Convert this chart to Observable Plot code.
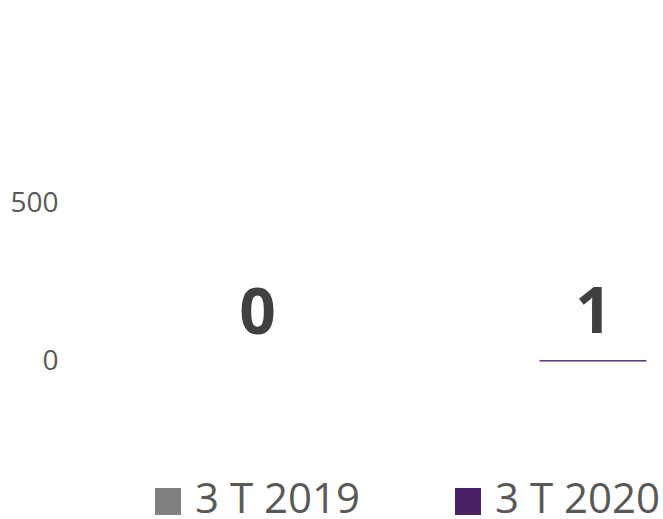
<!DOCTYPE html>
<html>
<head>
<meta charset="utf-8">
<script src="https://cdn.jsdelivr.net/npm/d3@7"></script>
<script src="https://cdn.jsdelivr.net/npm/@observablehq/plot@0.6"></script>
<style>
  body { margin: 0; background: #fff; font-family: "Open Sans", sans-serif; overflow: hidden; }
  #legend { position: relative; width: 663px; height: 49px; }
  .sw { position: absolute; top: 18px; width: 26px; height: 27px; }
  .lt { position: absolute; top: 9px; font-size: 42px; line-height: 36px; height: 36px; color: #595959; white-space: nowrap; }
</style>
</head>
<body>
<div id="chart"></div>
<div id="legend"></div>
<script>
const categories = ["3 T 2019", "3 T 2020"];
const values = [0, 1];
const colors = ["#808080", "#4B2166"];
const yTicks = [0, 500];

const data = categories.map((c, i) => ({category: c, value: values[i]}));

const chart = Plot.plot({
  width: 663,
  height: 470,
  marginLeft: 187,
  marginRight: 0,
  marginTop: 45,
  marginBottom: 109,
  style: {fontFamily: "Open Sans", background: "#fff"},
  x: {domain: categories, paddingInner: 0.6855, paddingOuter: 0.05, axis: null},
  y: {domain: [0, 1000], axis: null},
  color: {domain: categories, range: colors},
  marks: [
    Plot.axisY({ticks: yTicks, tickSize: 0, tickPadding: 129, fontSize: 28, color: "#595959", label: null, tickFormat: d => String(d)}),
    Plot.barY(data, {x: "category", y: "value", fill: "category", stroke: "category", strokeWidth: 1}),
    Plot.text(data, {x: "category", y: "value", text: d => String(d.value), fontSize: 64, fontWeight: "bold", fill: "#404040", lineAnchor: "bottom", dy: -28})
  ]
});
document.getElementById("chart").appendChild(chart);

const legend = document.getElementById("legend");
const swLefts = [155, 455];
const txtLefts = [195, 495];
categories.forEach((c, i) => {
  const sw = document.createElement("div");
  sw.className = "sw";
  sw.style.left = swLefts[i] + "px";
  sw.style.background = colors[i];
  const t = document.createElement("span");
  t.className = "lt";
  t.style.left = txtLefts[i] + "px";
  t.textContent = c;
  legend.appendChild(sw);
  legend.appendChild(t);
});
</script>
</body>
</html>
